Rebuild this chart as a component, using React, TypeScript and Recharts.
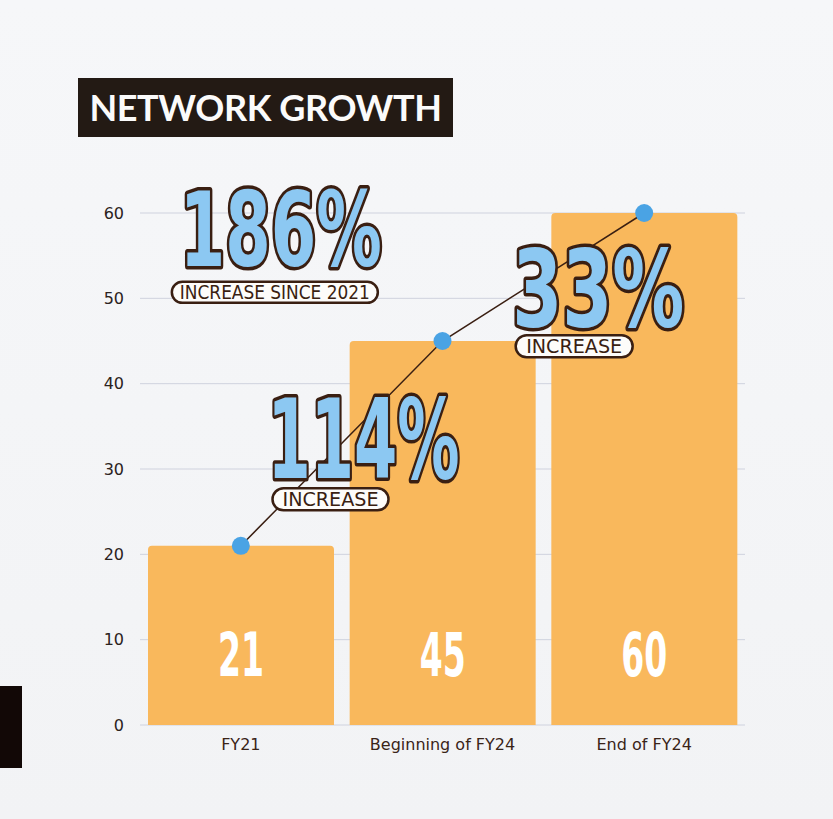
import React from 'react';
import {
  ComposedChart,
  Bar,
  Line,
  XAxis,
  YAxis,
  CartesianGrid,
  LabelList,
  ReferenceDot
} from 'recharts';

const categories = ['FY21', 'Beginning of FY24', 'End of FY24'];
const networkSize = [21, 45, 60];
const yTicks = [0, 10, 20, 30, 40, 50, 60];

// callouts: big percentage + pill caption
const calloutCategories = ['FY21', 'Beginning of FY24', 'End of FY24'];
const calloutValues = [58.2, 33.6, 51.3];
const calloutTexts = ['186%', '114%', '33%'];
const calloutCaptions = ['INCREASE SINCE 2021', 'INCREASE', 'INCREASE'];

const chartData = categories.map((name, i) => ({ name, value: networkSize[i] }));

const BAR_COLOR = '#f9b85c';
const DOT_COLOR = '#4aa3e4';
const INK = '#3a1f12';
const BIG_FILL = '#8cc8f2';
const NARROW = '"Liberation Sans Narrow", "DejaVu Sans Condensed", "Roboto", sans-serif';

// offsets/sizes of the callouts relative to their anchor point
const calloutLayout = [
  { dx: 40, w: 206, h: 75, pdx: -6, pdy: 64, pw: 206, ph: 21, tw: 190 },
  { dx: -79, w: 196, h: 80, pdx: -33, pdy: 61, pw: 116, ph: 22, tw: 96 },
  { dx: -46, w: 176, h: 77, pdx: -24, pdy: 59, pw: 117, ph: 22, tw: 96 }
];

const Callout = (props: any) => {
  const { cx, cy, idx } = props;
  if (cx == null || cy == null) return null;
  const l = calloutLayout[idx];
  const x = cx + l.dx;
  const fontSize = l.h / 0.72;
  const px = x + l.pdx;
  const py = cy + l.pdy;
  return (
    <g>
      <text
        x={x}
        y={cy + l.h / 2}
        textAnchor="middle"
        fontFamily={NARROW}
        fontWeight={700}
        fontSize={fontSize}
        fill={BIG_FILL}
        stroke={INK}
        strokeWidth={7}
        strokeLinejoin="round"
        paintOrder="stroke"
        textLength={l.w - 4}
        lengthAdjust="spacingAndGlyphs"
      >
        {calloutTexts[idx]}
      </text>
      <rect
        x={px - l.pw / 2}
        y={py - l.ph / 2}
        width={l.pw}
        height={l.ph}
        rx={l.ph / 2}
        fill="#fdfcfa"
        stroke={INK}
        strokeWidth={2.5}
      />
      <text
        x={px}
        y={py + 7}
        textAnchor="middle"
        fontFamily={NARROW}
        fontSize={19}
        fill={INK}
        textLength={l.tw}
        lengthAdjust="spacingAndGlyphs"
      >
        {calloutCaptions[idx]}
      </text>
    </g>
  );
};

const BarValueLabel = (props: any) => {
  const { x, y, width, height, value } = props;
  return (
    <text
      x={x + width / 2}
      y={y + height - 49}
      textAnchor="middle"
      fontFamily={NARROW}
      fontWeight={700}
      fontSize={60}
      fill="#ffffff"
      textLength={46}
      lengthAdjust="spacingAndGlyphs"
    >
      {value}
    </text>
  );
};

const App: React.FC = () => {
  return (
    <div
      style={{
        position: 'absolute',
        left: 0,
        top: 0,
        width: 833,
        height: 819,
        background: 'linear-gradient(180deg, #f6f7f9 0%, #f2f3f5 100%)',
        overflow: 'hidden'
      }}
    >
      <div
        style={{
          position: 'absolute',
          left: 78,
          top: 78,
          width: 375,
          height: 59,
          background: '#231a14',
          color: '#fbfbfb',
          fontFamily: 'Lato, sans-serif',
          fontWeight: 700,
          fontSize: 36,
          lineHeight: '59px',
          textAlign: 'center',
          letterSpacing: -0.4
        }}
      >
        NETWORK GROWTH
      </div>
      <div style={{ position: 'absolute', left: 0, top: 686, width: 22, height: 82, background: '#120806' }} />
      <ComposedChart
        width={833}
        height={819}
        data={chartData}
        margin={{ top: 213, right: 88, bottom: 64, left: 80 }}
        barCategoryGap={8}
      >
        <CartesianGrid vertical={false} stroke="#cfd2de" strokeWidth={1} />
        <XAxis
          dataKey="name"
          axisLine={false}
          tickLine={false}
          height={30}
          tickMargin={8}
          tick={{ fill: '#3a2418', fontSize: 16, fontFamily: '"DejaVu Sans", sans-serif' }}
        />
        <YAxis
          width={60}
          domain={[0, 60]}
          ticks={yTicks}
          axisLine={false}
          tickLine={false}
          tickMargin={10}
          tick={{ fill: '#2b2220', fontSize: 16, fontFamily: '"DejaVu Sans", sans-serif' }}
        />
        <Bar dataKey="value" fill={BAR_COLOR} radius={[4, 4, 0, 0]} isAnimationActive={false}>
          <LabelList dataKey="value" content={<BarValueLabel />} />
        </Bar>
        <Line
          type="linear"
          dataKey="value"
          stroke={INK}
          strokeWidth={1.5}
          dot={{ r: 9, fill: DOT_COLOR, stroke: 'none' }}
          activeDot={false}
          isAnimationActive={false}
        />
        {calloutCategories.map((cat, i) => (
          <ReferenceDot
            key={cat}
            x={cat}
            y={calloutValues[i]}
            r={0}
            ifOverflow="visible"
            shape={(p: any) => <Callout {...p} idx={i} />}
          />
        ))}
      </ComposedChart>
    </div>
  );
};

export default App;
